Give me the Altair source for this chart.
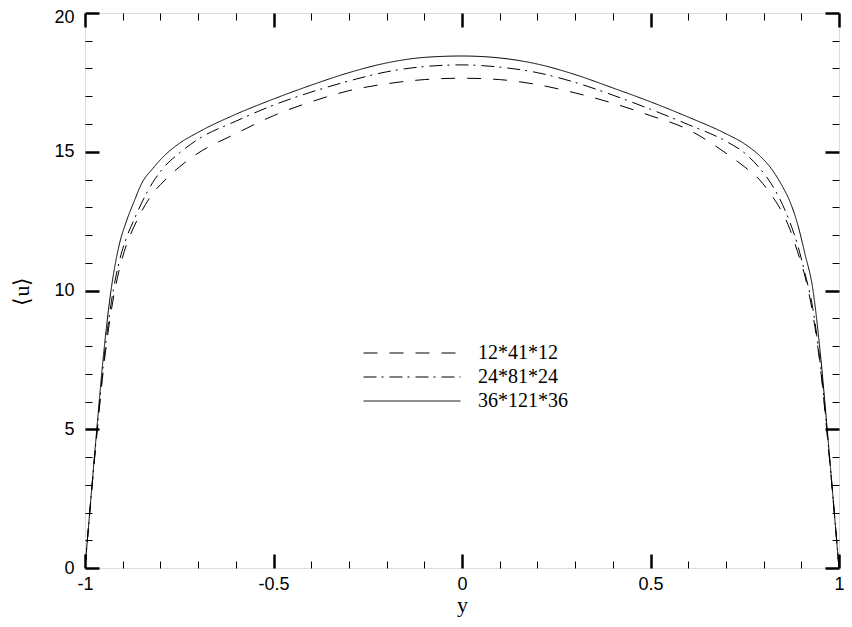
import altair as alt
import pandas as pd

# ---- data ----
series = ["12*41*12", "24*81*24", "36*121*36"]

y_pos = [-1.0, -0.99, -0.97, -0.95, -0.93, -0.91, -0.89, -0.87, -0.85, -0.82,
         -0.79, -0.75, -0.7, -0.6, -0.5, -0.4, -0.3, -0.2, -0.1, 0.0,
         0.1, 0.2, 0.3, 0.4, 0.5, 0.6, 0.7, 0.75, 0.79, 0.82,
         0.85, 0.87, 0.89, 0.91, 0.93, 0.95, 0.97, 0.99, 1.0]

u_12 = [0, 1.6, 4.6, 7.3, 9.3, 10.7, 11.65, 12.3, 12.85, 13.5,
        13.95, 14.45, 14.95, 15.65, 16.3, 16.8, 17.2, 17.45, 17.6, 17.65,
        17.6, 17.42, 17.12, 16.75, 16.3, 15.8, 14.95, 14.45, 13.98, 13.45,
        12.8, 12.2, 11.4, 10.5, 9.2, 7.3, 4.6, 1.6, 0]

u_24 = [0, 1.6, 4.7, 7.5, 9.6, 11.0, 11.9, 12.55, 13.15, 13.9,
        14.45, 14.95, 15.45, 16.1, 16.68, 17.15, 17.55, 17.88, 18.07, 18.13,
        18.05, 17.85, 17.5, 17.04, 16.53, 15.98, 15.38, 14.95, 14.4, 13.85,
        13.1, 12.45, 11.65, 10.6, 9.4, 7.4, 4.7, 1.6, 0]

u_36 = [0, 1.6, 4.8, 7.8, 10.1, 11.6, 12.5, 13.2, 13.85, 14.4,
        14.85, 15.3, 15.7, 16.35, 16.9, 17.4, 17.85, 18.2, 18.4, 18.45,
        18.38, 18.16, 17.78, 17.3, 16.8, 16.25, 15.65, 15.28, 14.85, 14.4,
        13.75, 13.2, 12.4, 11.3, 10.1, 7.8, 4.8, 1.6, 0]

x_major = [-1, -0.5, 0, 0.5, 1]
x_minor = [-0.9, -0.8, -0.7, -0.6, -0.4, -0.3, -0.2, -0.1,
           0.1, 0.2, 0.3, 0.4, 0.6, 0.7, 0.8, 0.9]
y_major = [0, 5, 10, 15, 20]
y_minor = [1, 2, 3, 4, 6, 7, 8, 9, 11, 12, 13, 14, 16, 17, 18, 19]

rows = []
for name, vals in zip(series, [u_12, u_24, u_36]):
    for yy, uu in zip(y_pos, vals):
        rows.append({"y": yy, "u": uu, "grid": name})
df = pd.DataFrame(rows)

SANS = "Liberation Sans"
SERIF = "Liberation Serif"
MAJ = 14
MIN = 7

xs = alt.Scale(domain=[-1, 1], nice=False, zero=False)
ys = alt.Scale(domain=[0, 20], nice=False, zero=False)


def axis(orient, values, size, width, labels=False, title=None, **kw):
    args = dict(orient=orient, values=values, tickSize=size, tickWidth=width,
                tickColor="black", offset=-size, domain=False, grid=False,
                labels=labels, title=title)
    args.update(kw)
    return alt.Axis(**args)


bottom_major = axis("bottom", x_major, MAJ, 2.5, labels=True, title="y",
                    labelFont=SANS, labelFontSize=18, labelColor="black",
                    labelPadding=7, labelFlush=False, labelOverlap=False,
                    labelExpr="toString(datum.value)",
                    titleFont=SERIF, titleFontSize=22, titleFontWeight="normal",
                    titleColor="black", titlePadding=1)
left_major = axis("left", y_major, MAJ, 2.5, labels=True, title="\u27e8u\u27e9",
                  labelFont=SANS, labelFontSize=18, labelColor="black",
                  labelPadding=11, labelFlush=False, labelOverlap=False,
                  labelExpr="toString(datum.value)",
                  labelOffset={"condition": {"test": "datum.value == 20", "value": 4},
                               "value": 0},
                  titleFont=SERIF, titleFontSize=22, titleFontWeight="normal",
                  titleColor="black", titlePadding=20)

lines = alt.Chart(df).mark_line(strokeWidth=1, color="black", clip=True,
                                interpolate="monotone").encode(
    x=alt.X("y:Q", scale=xs, axis=bottom_major),
    y=alt.Y("u:Q", scale=ys, axis=left_major),
    strokeDash=alt.StrokeDash(
        "grid:N",
        scale=alt.Scale(domain=series, range=[[14, 12], [13, 5, 2, 6], [1, 0]]),
        legend=alt.Legend(
            title=None, orient="none", legendX=278, legendY=328,
            symbolType="stroke", symbolSize=9409, symbolStrokeWidth=1,
            symbolStrokeColor="black", clipHeight=24, rowPadding=0, padding=0,
            labelFont=SERIF, labelFontSize=20, labelColor="black",
            labelOffset=17, symbolOffset=0,
        ),
    ),
)


def tick_layer(xa, ya):
    return alt.Chart(df).mark_point(opacity=0).encode(
        x=alt.X("y:Q", scale=xs, axis=xa),
        y=alt.Y("u:Q", scale=ys, axis=ya),
    )


top_right_major = tick_layer(axis("top", x_major, MAJ, 2.5),
                             axis("right", y_major, MAJ, 2.5))
bl_minor = tick_layer(axis("bottom", x_minor, MIN, 1),
                      axis("left", y_minor, MIN, 1))
tr_minor = tick_layer(axis("top", x_minor, MIN, 1),
                      axis("right", y_minor, MIN, 1))

chart = alt.layer(lines, top_right_major, bl_minor, tr_minor).resolve_scale(
    x="independent", y="independent"
).properties(
    width=754, height=555,
    autosize=alt.AutoSizeParams(type="none"),
    padding={"left": 77, "top": 5, "right": 5, "bottom": 51},
).configure_view(
    stroke="black", strokeWidth=3
).configure(background="white")

chart.save("out.html", embed_options={"renderer": "svg", "actions": False})
